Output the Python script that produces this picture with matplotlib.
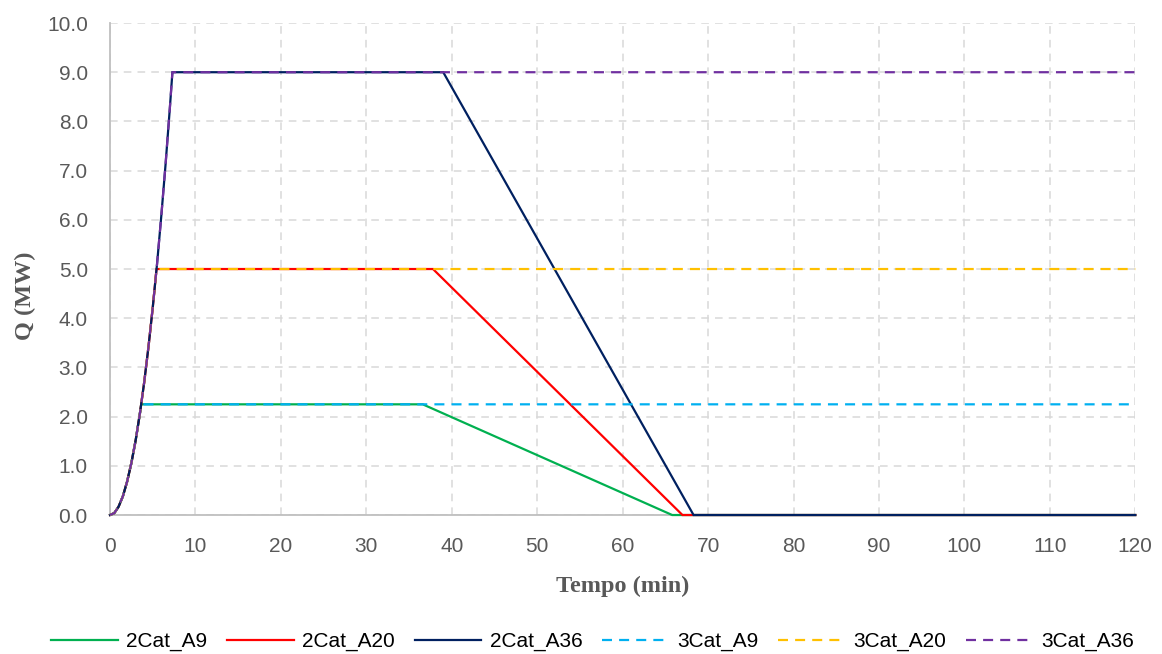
import numpy as np
import matplotlib
matplotlib.use("Agg")
import matplotlib.pyplot as plt

# t-squared growth phase (min, MW)
ramp_t = [0, 0.5, 1, 1.5, 2, 2.5, 3, 3.5, 4, 4.5, 5, 5.5, 6, 6.5, 7]
ramp_q = [0, 0.04, 0.17, 0.38, 0.68, 1.06, 1.52, 2.07, 2.70, 3.42, 4.22, 5.10, 6.08, 7.13, 8.27]

labels = ["2Cat_A9", "2Cat_A20", "2Cat_A36", "3Cat_A9", "3Cat_A20", "3Cat_A36"]
peak_q = [2.25, 5.0, 9.0, 2.25, 5.0, 9.0]
peak_t = [3.65, 5.44, 7.3, 3.65, 5.44, 7.3]
# decay start / end (None = no decay, stays at peak)
decay_start = [36.6, 37.8, 39.0, None, None, None]
decay_end = [65.8, 67.0, 68.3, None, None, None]
t_end = 120

colors = ["#00B050", "#FF0000", "#002060", "#00B0F0", "#FFC000", "#7030A0"]
styles = ["solid", "solid", "solid", "dashed", "dashed", "dashed"]


def build_series(i):
    t = [x for x, q in zip(ramp_t, ramp_q) if q < peak_q[i]]
    q = [q for q in ramp_q if q < peak_q[i]]
    t.append(peak_t[i])
    q.append(peak_q[i])
    if decay_start[i] is None:
        t.append(t_end)
        q.append(peak_q[i])
    else:
        t += [decay_start[i], decay_end[i], t_end]
        q += [peak_q[i], 0.0, 0.0]
    return t, q


fig = plt.figure(figsize=(11.62, 6.54), dpi=100)
ax = fig.add_axes([0.0947, 0.2125, 0.8823, 0.7523])

handles = []
for i in range(len(labels)):
    t, q = build_series(i)
    line, = ax.plot(t, q, color=colors[i], lw=1.6, label=labels[i],
                    solid_joinstyle="miter", zorder=3, clip_on=False)
    if styles[i] == "dashed":
        line.set_dashes((4.5, 3.2))
    handles.append(line)

ax.set_xlim(0, 120)
ax.set_ylim(0, 10)
ax.set_xticks(np.arange(0, 121, 10))
ax.set_yticks(np.arange(0, 10.1, 1))
ax.set_yticklabels(["%.1f" % v for v in np.arange(0, 10.1, 1)])
ax.grid(True, color="#D9D9D9", linestyle=(0, (5, 4)), lw=1.1)
ax.set_axisbelow(True)
for s in ["top", "right"]:
    ax.spines[s].set_visible(False)
for s in ["left", "bottom"]:
    ax.spines[s].set_color("#BFBFBF")
    ax.spines[s].set_linewidth(1.3)
ax.tick_params(length=0, labelsize=15, labelcolor="#595959")
ax.tick_params(axis="x", pad=16)
ax.tick_params(axis="y", pad=16)
for lab in ax.get_xticklabels() + ax.get_yticklabels():
    lab.set_family("Liberation Sans")

fig.text(0.5355, 0.104, "Tempo (min)", family="Liberation Serif",
         fontweight="bold", fontsize=17.5, color="#595959",
         ha="center", va="center")
fig.text(0.022, 0.548, "Q (MW)", family="Liberation Serif",
         fontweight="bold", fontsize=17.5, color="#595959",
         ha="center", va="center", rotation=90)

fig.legend(handles=handles, loc="center", bbox_to_anchor=(0.510, 0.019),
           ncol=6, frameon=False, handlelength=3.2, columnspacing=0.95,
           handletextpad=0.4, borderpad=0, borderaxespad=0,
           prop={"family": "Liberation Sans", "size": 15})

fig.savefig("out.png", dpi=100)
